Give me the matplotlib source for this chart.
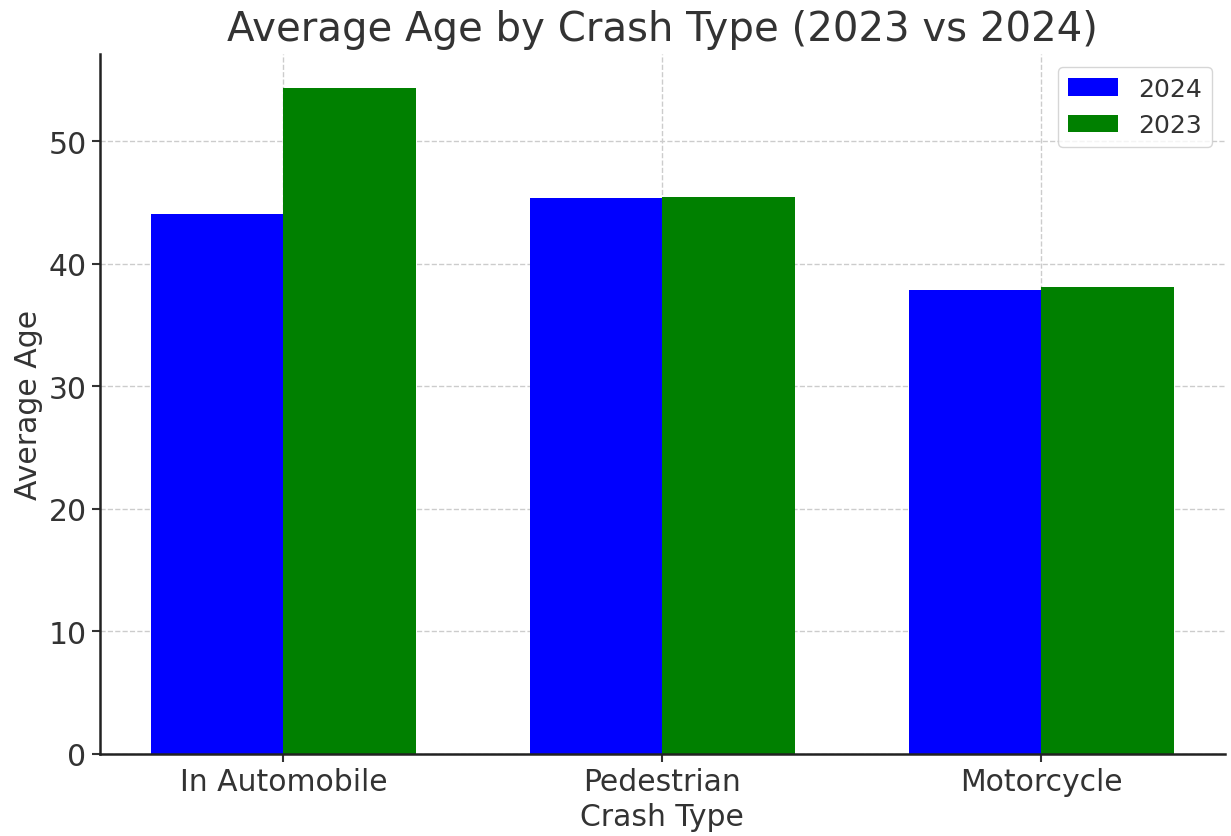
import matplotlib.pyplot as plt
import numpy as np

# Дані
crash_types = ["In Automobile", "Pedestrian", "Motorcycle"]
age_2024 = [44.1, 45.4, 37.9]
age_2023 = [54.4, 45.5, 38.1]

text_color = "#333333"
plt.rcParams["font.family"] = "DejaVu Sans"
plt.rcParams["text.color"] = text_color
plt.rcParams["axes.labelcolor"] = text_color
plt.rcParams["xtick.color"] = text_color
plt.rcParams["ytick.color"] = text_color

x = np.arange(len(crash_types))
width = 0.35

fig, ax = plt.subplots(figsize=(12.31, 8.37), dpi=100)
fig.subplots_adjust(left=0.081, right=0.995, top=0.934, bottom=0.098)

ax.bar(x - width / 2, age_2024, width, color="blue", label="2024")
ax.bar(x + width / 2, age_2023, width, color="green", label="2023")

ax.set_xticks(x)
ax.set_xticklabels(crash_types)
ax.tick_params(axis="both", labelsize=21.5, width=1.5, length=6)
ax.set_xlabel("Crash Type", fontsize=21.5)
ax.set_ylabel("Average Age", fontsize=21.5)
ax.set_title("Average Age by Crash Type (2023 vs 2024)", fontsize=29, pad=10)

ax.grid(True, linestyle="--", color="#cccccc", linewidth=1)
ax.set_axisbelow(True)
for side in ["top", "right"]:
    ax.spines[side].set_visible(False)
for side in ["left", "bottom"]:
    ax.spines[side].set_linewidth(1.8)
    ax.spines[side].set_color("#222222")

ax.legend(fontsize=18, loc="upper right")

fig.savefig("out.png", dpi=100)
